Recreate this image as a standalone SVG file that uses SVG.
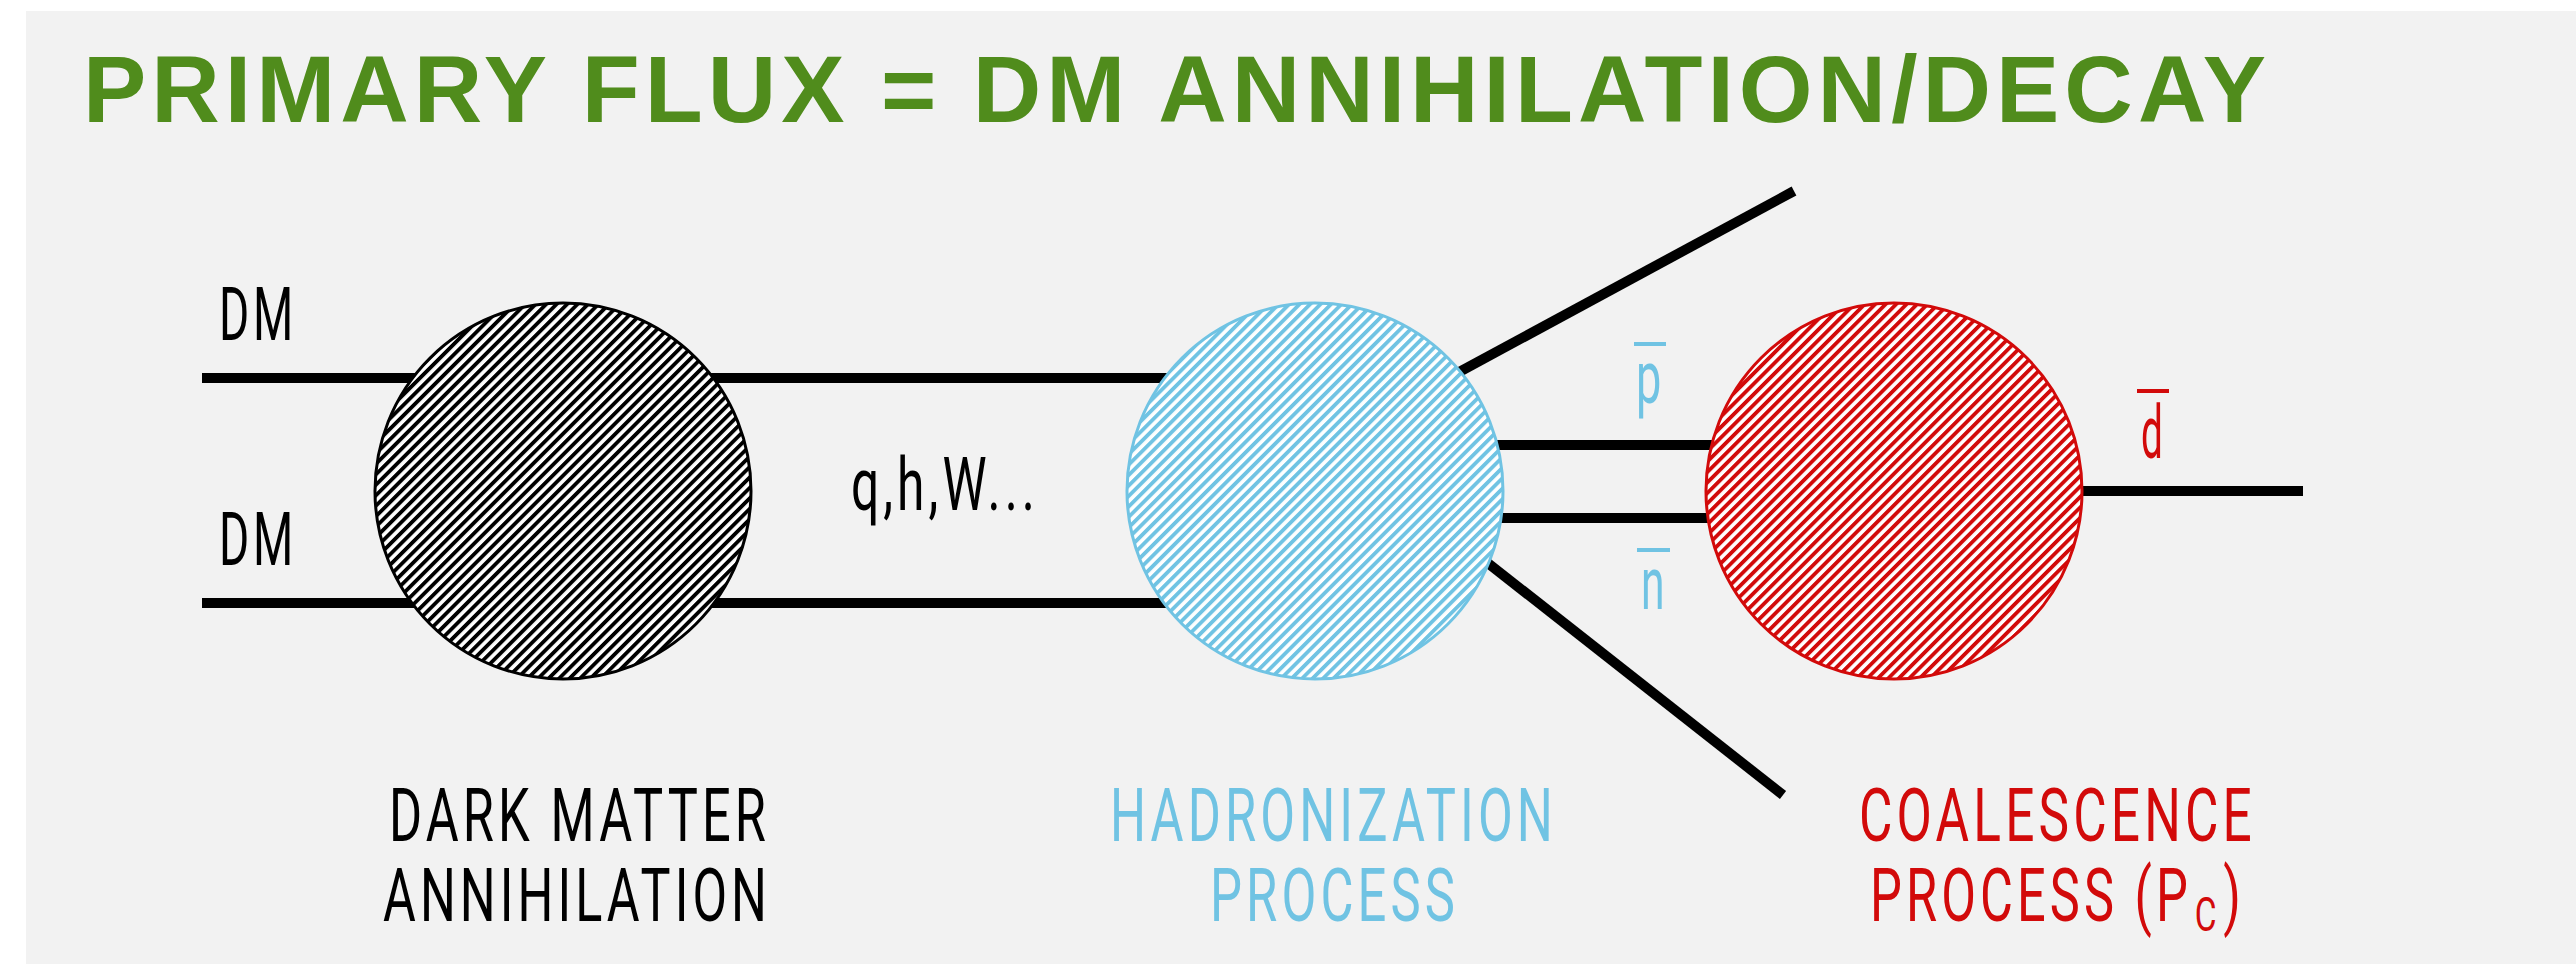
<svg xmlns="http://www.w3.org/2000/svg" width="2576" height="964" viewBox="0 0 2576 964">
  <style>
    .title { font-family: "Liberation Sans", Arial, sans-serif; font-weight: bold; font-size: 94px; fill: #508c1c; letter-spacing: 5px; }
    .lbl { font-family: Roboto, "DejaVu Sans", sans-serif; font-size: 74px; letter-spacing: 6px; }
    .k { fill: #000; }
    .b { fill: #70c3e3; }
    .r { fill: #d20a0a; }
    .line { stroke: #000; stroke-width: 10; fill: none; stroke-linecap: butt; }
  </style>
  <defs>
    <!-- diagonal hatch fills for the three blobs -->
    <pattern id="hatch-black" patternUnits="userSpaceOnUse" width="7.4" height="7.4" patternTransform="rotate(45)">
      <rect width="7.4" height="7.4" fill="#fff"/>
      <rect width="3.8" height="7.4" fill="#000"/>
    </pattern>
    <pattern id="hatch-blue" patternUnits="userSpaceOnUse" width="7.4" height="7.4" patternTransform="rotate(45)">
      <rect width="7.4" height="7.4" fill="#fff"/>
      <rect width="3.8" height="7.4" fill="#70c3e3"/>
    </pattern>
    <pattern id="hatch-red" patternUnits="userSpaceOnUse" width="7.4" height="7.4" patternTransform="rotate(45)">
      <rect width="7.4" height="7.4" fill="#fff"/>
      <rect width="3.8" height="7.4" fill="#d20a0a"/>
    </pattern>
  </defs>

  <!-- page -->
  <rect x="0" y="0" width="2576" height="964" fill="#fff"/>
  <rect x="26" y="11" width="2550" height="953" fill="#f2f2f2"/>

  <text id="title" class="title" x="83" y="122" textLength="2188" lengthAdjust="spacingAndGlyphs">PRIMARY FLUX = DM ANNIHILATION/DECAY</text>

  <!-- particle lines and their labels -->
  <g id="connectors">
    <line class="line" x1="202" y1="378" x2="1200" y2="378"/>
    <line class="line" x1="202" y1="603" x2="1200" y2="603"/>
    <line class="line" x1="1400" y1="404" x2="1794" y2="191"/>
    <line class="line" x1="1400" y1="445" x2="1800" y2="445"/>
    <line class="line" x1="1400" y1="518" x2="1800" y2="518"/>
    <line class="line" x1="1400" y1="494" x2="1783" y2="795"/>
    <line class="line" x1="1990" y1="491" x2="2303" y2="491"/>

    <text class="lbl k" x="219" y="340" textLength="78" lengthAdjust="spacingAndGlyphs">DM</text>
    <text class="lbl k" x="219" y="565" textLength="78" lengthAdjust="spacingAndGlyphs">DM</text>
    <text class="lbl k" x="851" y="510" textLength="188" lengthAdjust="spacingAndGlyphs">q,h,W...</text>

    <text class="lbl b" x="1636" y="403" textLength="29" lengthAdjust="spacingAndGlyphs">p</text>
    <rect x="1634" y="342" width="32" height="4" fill="#70c3e3"/>
    <text class="lbl b" x="1641" y="609" textLength="27" lengthAdjust="spacingAndGlyphs">n</text>
    <rect x="1637" y="548" width="33" height="4" fill="#70c3e3"/>
    <text class="lbl r" x="2141" y="458" textLength="25" lengthAdjust="spacingAndGlyphs">d</text>
    <rect x="2137" y="389" width="32" height="4" fill="#d20a0a"/>
  </g>

  <g id="dark-matter-annihilation">
    <circle cx="563" cy="491" r="188" fill="url(#hatch-black)" stroke="#000" stroke-width="3"/>
    <text class="lbl k" x="389" y="841" textLength="381" lengthAdjust="spacingAndGlyphs">DARK MATTER</text>
    <text class="lbl k" x="383" y="921" textLength="388" lengthAdjust="spacingAndGlyphs">ANNIHILATION</text>
  </g>

  <g id="hadronization">
    <circle cx="1315" cy="491" r="188" fill="url(#hatch-blue)" stroke="#70c3e3" stroke-width="3"/>
    <text class="lbl b" x="1110" y="841" textLength="447" lengthAdjust="spacingAndGlyphs">HADRONIZATION</text>
    <text class="lbl b" x="1210" y="921" textLength="249" lengthAdjust="spacingAndGlyphs">PROCESS</text>
  </g>

  <g id="coalescence">
    <circle cx="1894" cy="491" r="188" fill="url(#hatch-red)" stroke="#d20a0a" stroke-width="3"/>
    <text class="lbl r" x="1859" y="841" textLength="397" lengthAdjust="spacingAndGlyphs">COALESCENCE</text>
    <text class="lbl r" x="1870" y="921" textLength="375" lengthAdjust="spacingAndGlyphs">PROCESS (P<tspan font-size="49" dx="4" dy="10">C</tspan><tspan dx="4" dy="-10">)</tspan></text>
  </g>
</svg>
